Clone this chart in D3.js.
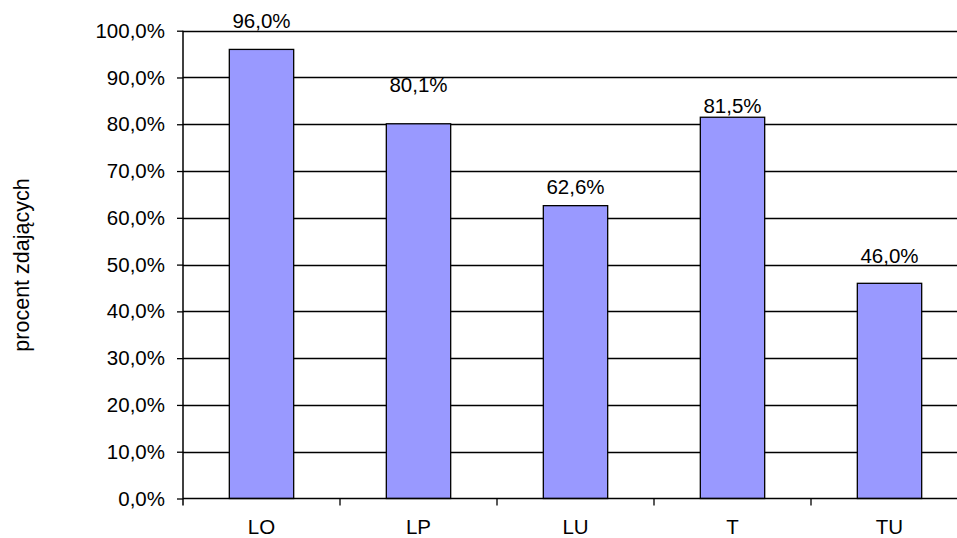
<!DOCTYPE html>
<html><head><meta charset="utf-8">
<script src="https://cdn.jsdelivr.net/npm/d3@7"></script>
<style>body{margin:0;background:#fff}svg{display:block}text{font-family:"Liberation Sans",Arial,sans-serif;fill:#000}</style>
</head><body><svg id="c" width="957" height="538"></svg>
<script>
const categories = ["LO","LP","LU","T","TU"];
const values = [96.0, 80.1, 62.6, 81.5, 46.0];
const yTicks = [0,10,20,30,40,50,60,70,80,90,100];
const yTitle = "procent zdających";
// layout: gap between bar top and label baseline (px), as placed in the reference
const labelLift = [21, 32, 12, 4, 20];

(function(){
const svg = d3.select("#c");
const pL = 183, pR = 968, pT = 30.7, pB = 498.5;
const FS = 20.5;
const x = d3.scaleBand().domain(categories).range([pL, pR]).paddingInner(0.59).paddingOuter(0.295);
const y = d3.scaleLinear().domain([0,100]).range([pB, pT]);
const fmt = v => v.toFixed(1).replace(".", ",") + "%";

// gridlines
svg.append("g").selectAll("line").data(yTicks.filter(t=>t>0)).join("line")
  .attr("x1", pL).attr("x2", pR).attr("y1", d=>Math.round(y(d))+0.5).attr("y2", d=>Math.round(y(d))+0.5)
  .attr("stroke","#000").attr("stroke-width",1.3);

// bars
svg.append("g").selectAll("rect").data(values).join("rect")
  .attr("x",(d,i)=>x(categories[i])).attr("width",x.bandwidth())
  .attr("y",d=>y(d)).attr("height",d=>pB-y(d))
  .attr("fill","#9999FF").attr("stroke","#000").attr("stroke-width",1.3);

// y axis
const ya = svg.append("g").attr("transform",`translate(${pL},0)`)
  .call(d3.axisLeft(y).tickValues(yTicks).tickFormat(d=>fmt(d)).tickSize(6).tickPadding(12));
ya.select(".domain").attr("stroke","#000").attr("stroke-width",1.5).attr("d",`M0,${pT}V${pB+7}`);
ya.selectAll(".tick line").attr("stroke-width",1.3);
ya.selectAll("text").attr("font-size",FS).attr("font-family","Liberation Sans, Arial, sans-serif");

// x axis
const xa = svg.append("g").attr("transform",`translate(0,${pB})`)
  .call(d3.axisBottom(x).tickSize(0).tickPadding(21));
xa.select(".domain").attr("stroke","#000").attr("stroke-width",1.5).attr("d",`M${pL},0H${pR}`);
xa.selectAll("text").attr("font-size",FS).attr("font-family","Liberation Sans, Arial, sans-serif");
const bounds = categories.map(c=>x(c)-x.step()*x.paddingInner()/2);
svg.append("g").selectAll("line").data(bounds.slice(1)).join("line")
  .attr("x1",d=>d).attr("x2",d=>d).attr("y1",pB).attr("y2",pB+7)
  .attr("stroke","#000").attr("stroke-width",1.3);

// labels
svg.append("g").selectAll("text").data(values).join("text")
  .attr("x",(d,i)=>x(categories[i])+x.bandwidth()/2)
  .attr("y",(d,i)=>y(d)-labelLift[i])
  .attr("text-anchor","middle").attr("font-size",FS).text(d=>fmt(d));

// y title
svg.append("text").attr("transform","translate(29,265) rotate(-90)")
  .attr("text-anchor","middle").attr("font-size",21.5).text(yTitle);
})();
</script></body></html>
